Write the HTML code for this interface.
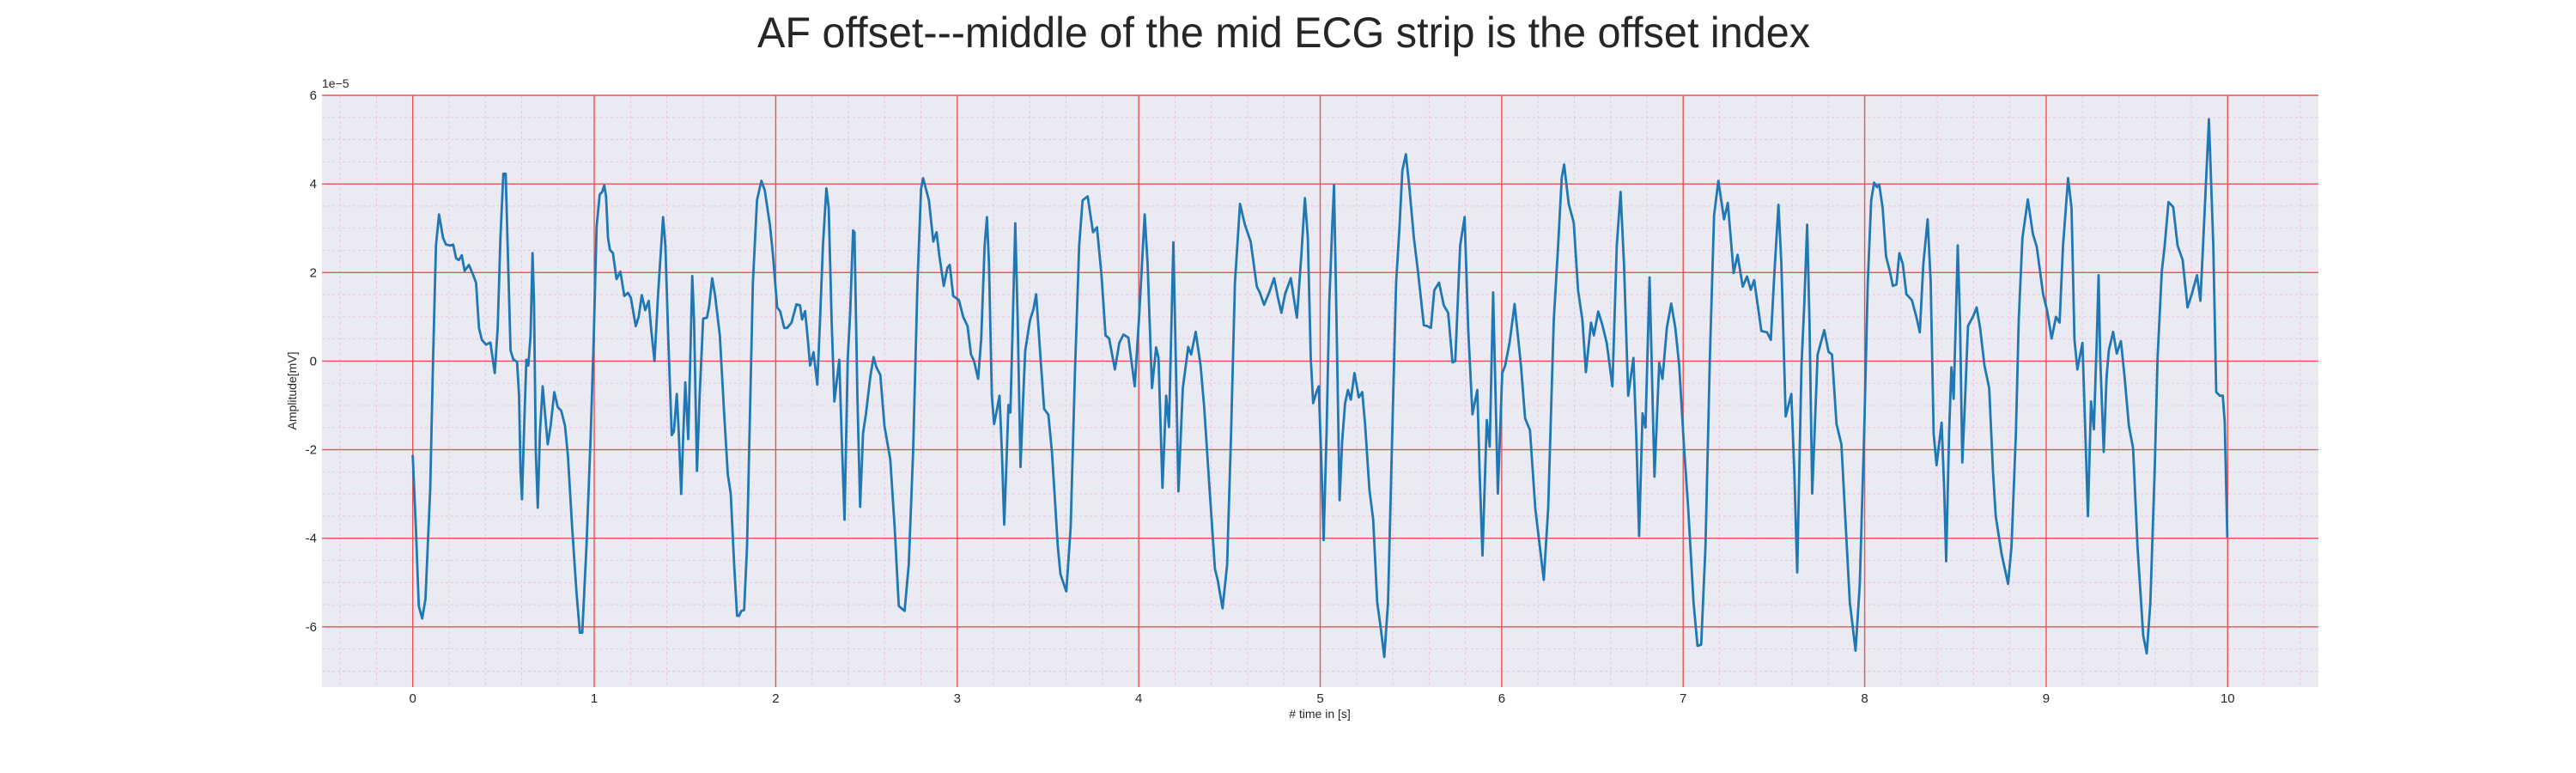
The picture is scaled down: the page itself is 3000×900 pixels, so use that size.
<!DOCTYPE html>
<html><head><meta charset="utf-8">
<style>
html,body{margin:0;padding:0;background:#fff;}
svg{display:block;font-family:"Liberation Sans",sans-serif;}
</style></head>
<body>
<svg id="chart" width="3000" height="900" viewBox="0 0 3000 900" xmlns="http://www.w3.org/2000/svg">
<text x="1495" y="55" font-size="50" text-anchor="middle" fill="#262626" textLength="1226" lengthAdjust="spacingAndGlyphs">AF offset---middle of the mid ECG strip is the offset index</text>
<rect x="375" y="111" width="2325" height="689" fill="#eaeaf2"/>
<g id="grid"></g>
<g id="ticks"></g>
<g id="series"></g>
<text x="375" y="102" font-size="14" fill="#262626">1e−5</text>
<text x="1537" y="836" font-size="14" text-anchor="middle" fill="#262626"># time in [s]</text>
<text transform="translate(345,455) rotate(-90)" font-size="14" text-anchor="middle" fill="#262626">Amplitude[mV]</text>
</svg>
<script>
const xTicks = [0,1,2,3,4,5,6,7,8,9,10];
const yTicks = [-6,-4,-2,0,2,4,6];
const times = [0,0.017,0.033,0.052,0.07,0.096,0.112,0.128,0.145,0.167,0.183,0.207,0.223,0.239,0.254,0.27,0.286,0.31,0.333,0.349,0.365,0.381,0.404,0.428,0.452,0.468,0.483,0.499,0.512,0.523,0.539,0.554,0.575,0.586,0.594,0.602,0.613,0.626,0.637,0.649,0.66,0.668,0.678,0.689,0.701,0.716,0.731,0.744,0.76,0.78,0.799,0.818,0.839,0.855,0.878,0.902,0.921,0.934,0.957,0.981,0.997,1.013,1.03,1.044,1.055,1.065,1.076,1.087,1.103,1.123,1.144,1.166,1.186,1.202,1.229,1.245,1.262,1.281,1.3,1.313,1.332,1.352,1.379,1.392,1.408,1.427,1.439,1.455,1.466,1.479,1.491,1.502,1.518,1.529,1.54,1.55,1.566,1.581,1.6,1.621,1.634,1.65,1.665,1.692,1.716,1.736,1.752,1.771,1.787,1.798,1.81,1.826,1.842,1.858,1.874,1.897,1.921,1.94,1.968,1.984,2.008,2.024,2.047,2.063,2.087,2.114,2.134,2.145,2.162,2.177,2.189,2.208,2.229,2.244,2.26,2.279,2.292,2.308,2.323,2.35,2.363,2.379,2.397,2.41,2.426,2.434,2.45,2.465,2.481,2.497,2.521,2.539,2.555,2.576,2.599,2.631,2.655,2.678,2.71,2.733,2.757,2.781,2.801,2.812,2.844,2.868,2.886,2.902,2.926,2.946,2.959,2.978,3.009,3.033,3.057,3.076,3.093,3.115,3.132,3.151,3.164,3.175,3.191,3.203,3.218,3.233,3.246,3.259,3.27,3.282,3.293,3.306,3.32,3.333,3.349,3.364,3.375,3.401,3.42,3.435,3.459,3.479,3.502,3.522,3.554,3.569,3.601,3.625,3.648,3.672,3.691,3.719,3.748,3.77,3.795,3.817,3.837,3.869,3.893,3.916,3.943,3.978,4.002,4.033,4.049,4.073,4.096,4.109,4.131,4.151,4.167,4.191,4.204,4.219,4.243,4.273,4.289,4.314,4.341,4.361,4.388,4.42,4.435,4.462,4.487,4.509,4.53,4.558,4.585,4.617,4.651,4.667,4.691,4.719,4.746,4.767,4.786,4.806,4.838,4.856,4.872,4.897,4.916,4.932,4.948,4.961,4.979,4.992,5.008,5.019,5.035,5.05,5.066,5.076,5.09,5.107,5.121,5.137,5.153,5.169,5.189,5.213,5.232,5.248,5.271,5.292,5.314,5.334,5.353,5.374,5.397,5.418,5.437,5.453,5.472,5.492,5.516,5.539,5.571,5.591,5.61,5.629,5.655,5.681,5.705,5.729,5.744,5.771,5.796,5.815,5.839,5.866,5.878,5.894,5.918,5.934,5.953,5.979,6.003,6.019,6.043,6.071,6.106,6.129,6.156,6.185,6.232,6.256,6.287,6.311,6.331,6.344,6.369,6.397,6.421,6.445,6.464,6.492,6.508,6.532,6.555,6.579,6.61,6.634,6.655,6.674,6.697,6.726,6.741,6.757,6.776,6.792,6.815,6.842,6.868,6.886,6.91,6.934,6.957,6.978,7.005,7.028,7.057,7.079,7.099,7.123,7.147,7.17,7.194,7.225,7.246,7.278,7.3,7.328,7.352,7.372,7.391,7.431,7.462,7.483,7.502,7.525,7.541,7.565,7.596,7.612,7.628,7.652,7.667,7.683,7.696,7.711,7.741,7.777,7.801,7.82,7.845,7.872,7.896,7.918,7.95,7.973,7.997,8.017,8.036,8.052,8.068,8.08,8.099,8.118,8.139,8.155,8.175,8.191,8.21,8.23,8.26,8.285,8.304,8.323,8.347,8.364,8.38,8.396,8.424,8.438,8.449,8.465,8.478,8.49,8.502,8.513,8.525,8.538,8.554,8.569,8.596,8.617,8.636,8.66,8.686,8.707,8.722,8.754,8.79,8.809,8.833,8.849,8.869,8.899,8.927,8.948,8.983,9.006,9.03,9.054,9.074,9.093,9.121,9.14,9.156,9.172,9.2,9.216,9.23,9.247,9.263,9.279,9.289,9.298,9.317,9.333,9.345,9.369,9.389,9.412,9.432,9.456,9.479,9.503,9.535,9.554,9.574,9.598,9.614,9.637,9.653,9.674,9.7,9.724,9.752,9.779,9.802,9.831,9.85,9.874,9.897,9.921,9.937,9.957,9.973,9.984,9.998];
const amplitudes = [-2.14,-3.75,-5.53,-5.81,-5.37,-2.9,0.07,2.61,3.31,2.78,2.63,2.61,2.63,2.32,2.28,2.39,2.04,2.17,1.94,1.77,0.75,0.48,0.37,0.42,-0.27,0.75,2.78,4.23,4.23,2.61,0.24,0.04,-0.02,-0.78,-2.48,-3.12,-1.63,0.03,-0.1,0.58,2.44,1.34,-2.05,-3.31,-1.63,-0.57,-1.29,-1.88,-1.46,-0.7,-1.04,-1.12,-1.46,-2.14,-3.75,-5.2,-6.13,-6.13,-4.18,-1.63,0.49,3.04,3.76,3.82,3.97,3.72,2.78,2.51,2.44,1.85,2.02,1.47,1.54,1.43,0.79,1.0,1.49,1.15,1.36,0.75,0,1.51,3.25,2.61,0.49,-1.67,-1.59,-0.74,-1.63,-3.0,-1.63,-0.48,-1.76,0.07,1.92,0.92,-2.48,-0.78,0.96,0.98,1.26,1.87,1.51,0.58,-1.2,-2.56,-2.99,-4.6,-5.75,-5.75,-5.64,-5.62,-4.18,-1.2,1.77,3.63,4.07,3.85,3.08,2.44,1.21,1.13,0.75,0.75,0.87,1.28,1.26,0.94,1.13,0.49,-0.1,0.2,-0.53,0.92,2.61,3.9,3.46,0.92,-0.91,0.03,-1.63,-3.58,0.07,1.09,2.95,2.91,-0.78,-3.29,-1.63,-1.19,-0.36,0.09,-0.14,-0.31,-1.46,-2.22,-3.75,-5.53,-5.64,-4.6,-2.05,1.77,3.89,4.13,3.63,2.7,2.91,2.36,1.7,2.11,2.17,1.47,1.38,1.0,0.79,0.15,0,-0.4,0.49,2.61,3.25,2.19,-0.78,-1.42,-1.12,-0.78,-2.05,-3.69,-2.48,-0.99,-1.16,0.92,3.11,0.92,-2.39,-0.78,0.24,0.92,1.17,1.51,0.07,-1.08,-1.21,-2.05,-4.18,-4.81,-5.2,-3.75,-0.36,2.61,3.63,3.72,2.91,3.02,1.94,0.58,0.51,-0.19,0.41,0.6,0.53,-0.57,1.0,3.31,2.19,-0.61,0.31,0.07,-2.86,-0.78,-1.49,2.68,0.07,-2.94,-0.61,0.32,0.15,0.66,-0.1,-1.04,-2.73,-4.69,-4.94,-5.58,-4.6,-1.63,1.77,3.55,3.08,2.7,1.68,1.55,1.27,1.55,1.87,1.43,1.09,1.51,1.87,1.38,0.98,2.44,3.68,2.78,0.07,-0.95,-0.7,-0.57,-2.48,-4.04,-1.63,1.34,3.04,3.97,0.92,-3.14,-1.8,-0.95,-0.65,-0.87,-0.27,-0.82,-0.7,-1.46,-2.9,-3.58,-5.45,-6.04,-6.68,-5.45,-1.63,1.77,3.04,4.31,4.67,3.89,2.78,2.02,0.81,0.79,0.75,1.6,1.77,1.26,1.09,-0.03,0,2.61,3.25,0.75,-1.2,-0.65,-2.48,-4.39,-1.33,-1.93,1.55,-2.99,-0.27,-0.1,0.41,1.29,-0.1,-1.29,-1.56,-3.33,-4.94,-3.33,0.92,2.61,4.14,4.44,3.55,3.12,1.6,0.92,-0.25,0.87,0.58,1.12,0.81,0.41,-0.57,2.61,3.82,2.19,-0.78,0.07,-1.63,-3.95,-1.18,-1.5,1.89,-2.61,-0.04,-0.4,0.75,1.3,0.75,-0.1,-1.97,-3.33,-5.45,-6.43,-6.4,-4.18,0.07,3.29,4.07,3.2,3.57,1.99,2.4,1.68,1.91,1.61,1.83,0.68,0.65,0.48,1.94,3.53,2.19,-1.25,-0.74,-2.48,-4.77,-0.1,1.26,3.08,0.92,-2.99,0.15,0.7,0.21,0.15,-1.42,-1.88,-3.75,-5.45,-6.54,-5.03,-1.63,1.77,3.63,4.03,3.93,3.99,3.46,2.36,2.02,1.7,1.73,2.44,2.19,1.51,1.38,1.0,0.65,2.19,3.2,1.77,-1.63,-2.35,-1.39,-2.9,-4.52,-1.63,-0.14,-0.85,0.92,2.61,0.92,-2.29,-0.78,0.79,1.0,1.21,0.75,-0.1,-0.61,-2.48,-3.5,-4.35,-5.03,-4.18,-1.63,0.92,2.78,3.65,2.87,2.58,1.51,1.13,0.51,1.0,0.87,2.61,4.13,3.46,0.49,-0.19,0.41,-1.63,-3.5,-0.91,-1.54,0.49,1.94,0.07,-2.05,-0.36,0.24,0.66,0.17,0.45,-0.36,-1.46,-1.97,-4.18,-6.2,-6.6,-5.45,-2.48,0.07,2.02,2.61,3.59,3.48,2.61,2.28,1.21,1.51,1.94,1.36,3.46,5.46,2.61,-0.7,-0.78,-0.78,-1.37,-3.96];

const NS='http://www.w3.org/2000/svg';
const L=375,R=2700,T=111,B=800;
const xMin=-0.5,xMax=10.5,yMin=-7.36,yMax=6;
function xs(t){return L+(t-xMin)/(xMax-xMin)*(R-L);}
function ys(v){return B-(v-yMin)/(yMax-yMin)*(B-T);}
function mk(tag,attrs,parent){const e=document.createElementNS(NS,tag);for(const k in attrs)e.setAttribute(k,attrs[k]);parent.appendChild(e);return e;}
const grid=document.getElementById('grid'),ticks=document.getElementById('ticks'),series=document.getElementById('series');
for(let i=-2;i<=52;i++){const t=i*0.2;if(t<xMin||t>xMax||i%5===0)continue;
 const ln=mk('line',{x1:xs(t),x2:xs(t),y1:T,y2:B,stroke:'#f2b6e6','stroke-width':0.8,'stroke-dasharray':'3,3'},grid);
 
 }
for(let i=-14;i<=12;i++){const v=i*0.5;if(v<yMin||v>yMax||i%4===0)continue;
 const ln=mk('line',{x1:L,x2:R,y1:ys(v),y2:ys(v),stroke:'#f2b6e6','stroke-width':0.8,'stroke-dasharray':'3,3'},grid);
 
 }
xTicks.forEach(t=>{
 const ln=mk('line',{x1:xs(t),x2:xs(t),y1:T,y2:B,stroke:'#f05050','stroke-width':1.4},grid);
 
 
 const tx=mk('text',{x:xs(t),y:818,'font-size':15,'text-anchor':'middle',fill:'#262626'},ticks);
 tx.textContent=String(t);
 
 
});
yTicks.forEach(v=>{
 const ln=mk('line',{x1:L,x2:R,y1:ys(v),y2:ys(v),stroke:'#f05050','stroke-width':1.4},grid);
 
 
 const tx=mk('text',{x:369,y:ys(v)+5,'font-size':15,'text-anchor':'end',fill:'#262626'},ticks);
 tx.textContent=String(v);
 
 
});
let d='';
times.forEach((t,i)=>{d+=(i?'L':'M')+xs(t).toFixed(1)+','+ys(amplitudes[i]).toFixed(1);});
const p=mk('path',{d:d,fill:'none',stroke:'#1f77b4','stroke-width':2.8,'stroke-linejoin':'round','stroke-linecap':'round'},series);


</script>
</body></html>
